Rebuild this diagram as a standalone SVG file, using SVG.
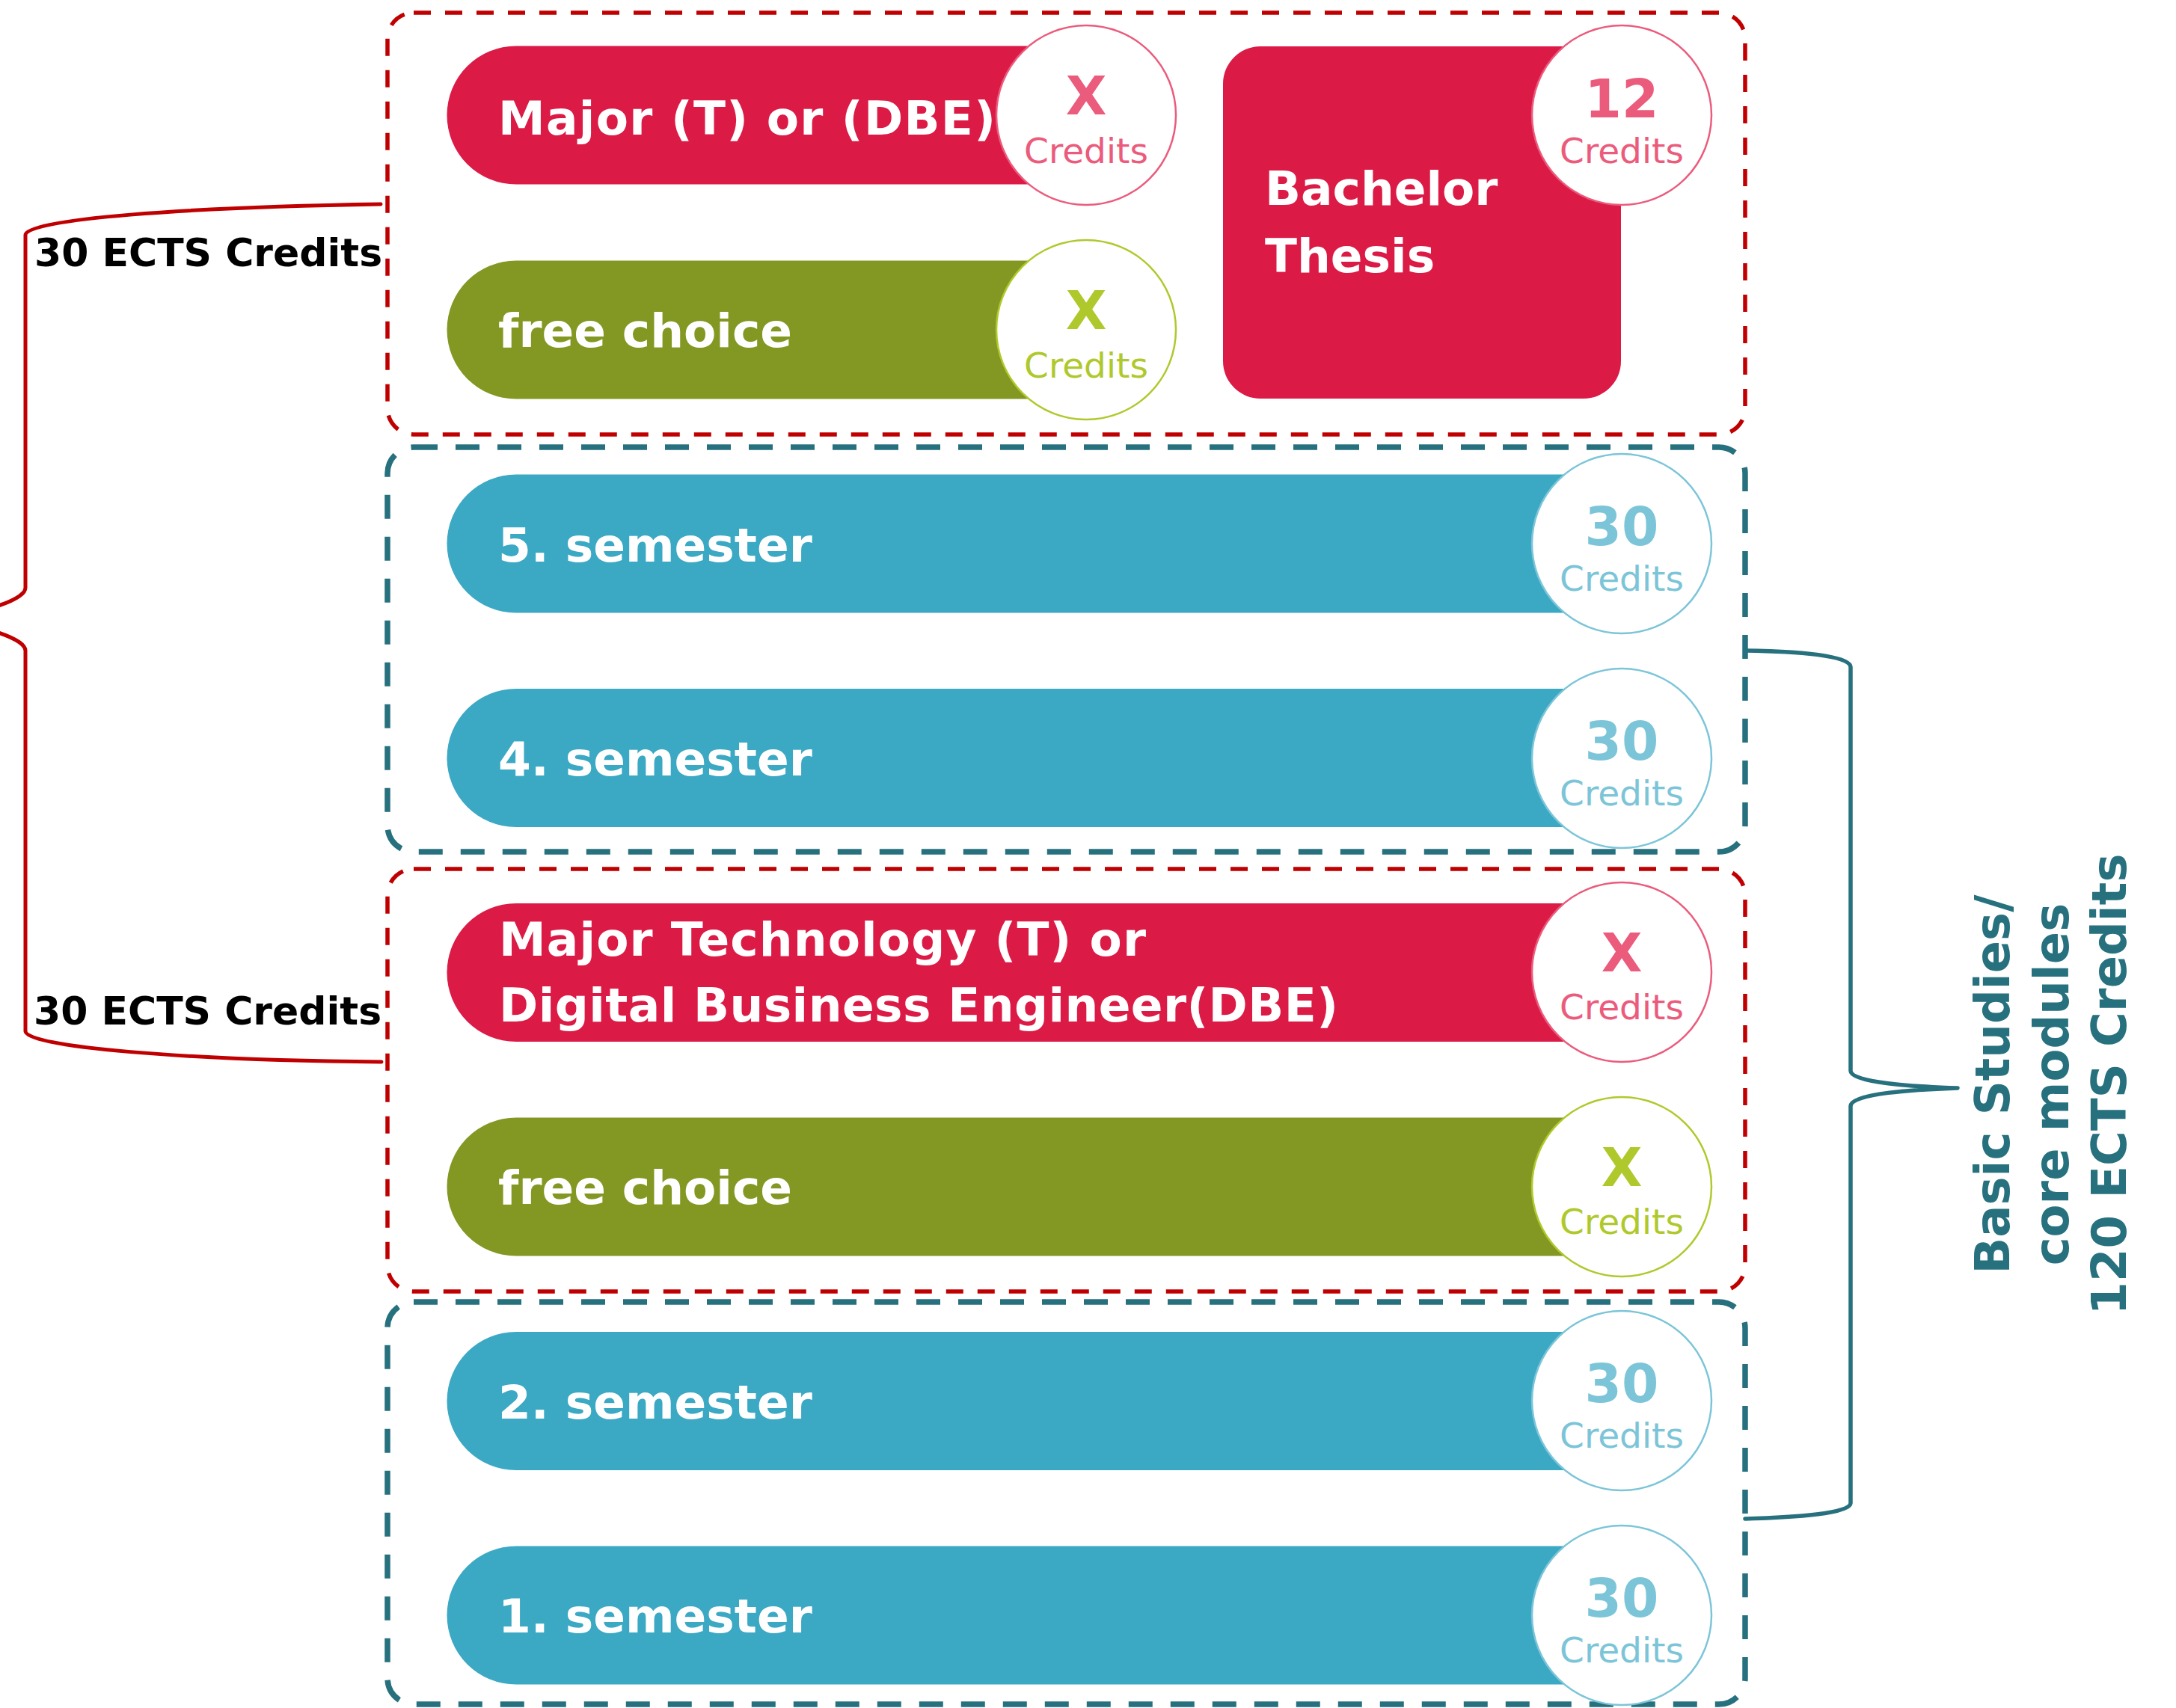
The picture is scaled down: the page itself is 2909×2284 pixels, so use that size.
<svg xmlns="http://www.w3.org/2000/svg" width="2909" height="2284" viewBox="0 0 2909 2284">
<style>
.bg{fill:#ffffff}
.boxR{fill:none;stroke:#C00000;stroke-width:5.5;stroke-dasharray:23 19}
.boxT{fill:none;stroke:#27717F;stroke-width:7.5;stroke-dasharray:32 24}
.red{fill:#DC1A46}
.olive{fill:#839823}
.blue{fill:#3BA8C4}
.lbl{font-family:"DejaVu Sans","Verdana",sans-serif;font-weight:bold;font-size:63px;fill:#ffffff}
.cR{fill:#ffffff;stroke:#EB5B7C;stroke-width:2.5}
.cG{fill:#ffffff;stroke:#AFC92C;stroke-width:2.5}
.cB{fill:#ffffff;stroke:#7CC5D8;stroke-width:2.5}
.num{font-family:"DejaVu Sans",sans-serif;font-weight:bold;font-size:71px;text-anchor:middle}
.cr{font-family:"DejaVu Sans",sans-serif;font-size:47px;text-anchor:middle}
.tR{fill:#EB5B7C}
.tG{fill:#AFC92C}
.tB{fill:#7CC5D8}
.brR{fill:none;stroke:#C00000;stroke-width:5;stroke-linecap:round;stroke-linejoin:round}
.brT{fill:none;stroke:#27717F;stroke-width:5.5;stroke-linecap:round;stroke-linejoin:round}
.ects{font-family:"DejaVu Sans",sans-serif;font-weight:bold;font-size:52px;fill:#000000}
.side{font-family:"DejaVu Sans",sans-serif;font-weight:bold;font-size:64px;fill:#27717F;text-anchor:middle}
</style>
<rect class="bg" x="0" y="0" width="2909" height="2284"/>

<g id="groups">
  <rect id="group-year3-majors" class="boxR" x="518" y="17" width="1815" height="564" rx="35"/>
  <rect id="group-core-upper" class="boxT" x="518" y="598" width="1815" height="541" rx="35"/>
  <rect id="group-year2-majors" class="boxR" x="518" y="1162" width="1815" height="565" rx="35"/>
  <rect id="group-core-lower" class="boxT" x="518" y="1741" width="1815" height="538" rx="35"/>
</g>

<g id="connectors">
  <path class="brR" d="M509,273 C250,277 34,293 34,314 L34,786 C34,804 -40,826 -109,828 C-40,830 34,852 34,870 L34,1379 C34,1400 250,1418 510,1420"/>
  <path class="brT" d="M2333,870 C2400,871 2474,876 2474,892 L2474,1432 C2474,1448 2560,1453 2617,1455 C2560,1457 2474,1462 2474,1479 L2474,2010 C2474,2024 2400,2029 2333,2031"/>
</g>

<g id="label-ects-top"><text class="ects" x="46" y="356">30 ECTS Credits</text></g>
<g id="label-ects-bottom"><text class="ects" x="45" y="1370">30 ECTS Credits</text></g>

<g id="node-major-top">
  <path class="red" d="M690,61.5 H1452 V246.5 H690 A92.5,92.5 0 0 1 690,61.5 Z"/>
  <text class="lbl" x="666" y="180" textLength="665" lengthAdjust="spacing">Major (T) or (DBE)</text>
  <circle class="cR" cx="1452" cy="154" r="120"/>
  <text class="num tR" x="1452" y="153">X</text>
  <text class="cr tR" x="1452" y="218">Credits</text>
</g>

<g id="node-free-top">
  <path class="olive" d="M690,348.5 H1452 V533.5 H690 A92.5,92.5 0 0 1 690,348.5 Z"/>
  <text class="lbl" x="666" y="464">free choice</text>
  <circle class="cG" cx="1452" cy="441" r="120"/>
  <text class="num tG" x="1452" y="440">X</text>
  <text class="cr tG" x="1452" y="505">Credits</text>
</g>

<g id="node-thesis">
  <rect class="red" x="1635" y="62" width="532" height="471" rx="50"/>
  <text class="lbl" x="1691" y="274">Bachelor</text>
  <text class="lbl" x="1691" y="364">Thesis</text>
  <circle class="cR" cx="2168" cy="154" r="120"/>
  <text class="num tR" x="2168" y="157">12</text>
  <text class="cr tR" x="2168" y="218">Credits</text>
</g>

<g id="node-sem5">
  <path class="blue" d="M690,634.5 H2168 V819.5 H690 A92.5,92.5 0 0 1 690,634.5 Z"/>
  <text class="lbl" x="666" y="751">5. semester</text>
  <circle class="cB" cx="2168" cy="727" r="120"/>
  <text class="num tB" x="2168" y="729">30</text>
  <text class="cr tB" x="2168" y="790">Credits</text>
</g>

<g id="node-sem4">
  <path class="blue" d="M690,921 H2168 V1106 H690 A92.5,92.5 0 0 1 690,921 Z"/>
  <text class="lbl" x="666" y="1037">4. semester</text>
  <circle class="cB" cx="2168" cy="1014" r="120"/>
  <text class="num tB" x="2168" y="1016">30</text>
  <text class="cr tB" x="2168" y="1077">Credits</text>
</g>

<g id="node-major-lower">
  <path class="red" d="M690,1208 H2168 V1393 H690 A92.5,92.5 0 0 1 690,1208 Z"/>
  <text class="lbl" x="667" y="1278" textLength="865" lengthAdjust="spacing">Major Technology (T) or</text>
  <text class="lbl" x="667" y="1366" textLength="1122" lengthAdjust="spacing">Digital Business Engineer(DBE)</text>
  <circle class="cR" cx="2168" cy="1300" r="120"/>
  <text class="num tR" x="2168" y="1299">X</text>
  <text class="cr tR" x="2168" y="1363">Credits</text>
</g>

<g id="node-free-lower">
  <path class="olive" d="M690,1494.5 H2168 V1679.5 H690 A92.5,92.5 0 0 1 690,1494.5 Z"/>
  <text class="lbl" x="666" y="1610">free choice</text>
  <circle class="cG" cx="2168" cy="1587" r="120"/>
  <text class="num tG" x="2168" y="1586">X</text>
  <text class="cr tG" x="2168" y="1650">Credits</text>
</g>

<g id="node-sem2">
  <path class="blue" d="M690,1781 H2168 V1966 H690 A92.5,92.5 0 0 1 690,1781 Z"/>
  <text class="lbl" x="666" y="1897">2. semester</text>
  <circle class="cB" cx="2168" cy="1873" r="120"/>
  <text class="num tB" x="2168" y="1875">30</text>
  <text class="cr tB" x="2168" y="1936">Credits</text>
</g>

<g id="node-sem1">
  <path class="blue" d="M690,2067.5 H2168 V2252.5 H690 A92.5,92.5 0 0 1 690,2067.5 Z"/>
  <text class="lbl" x="666" y="2183">1. semester</text>
  <circle class="cB" cx="2168" cy="2160" r="120"/>
  <text class="num tB" x="2168" y="2162">30</text>
  <text class="cr tB" x="2168" y="2223">Credits</text>
</g>

<g id="label-basic-studies">
  <text class="side" transform="translate(2686,1450) rotate(-90)">Basic Studies/</text>
  <text class="side" transform="translate(2765,1450) rotate(-90)">core modules</text>
  <text class="side" transform="translate(2842,1450) rotate(-90)">120 ECTS Credits</text>
</g>
</svg>
